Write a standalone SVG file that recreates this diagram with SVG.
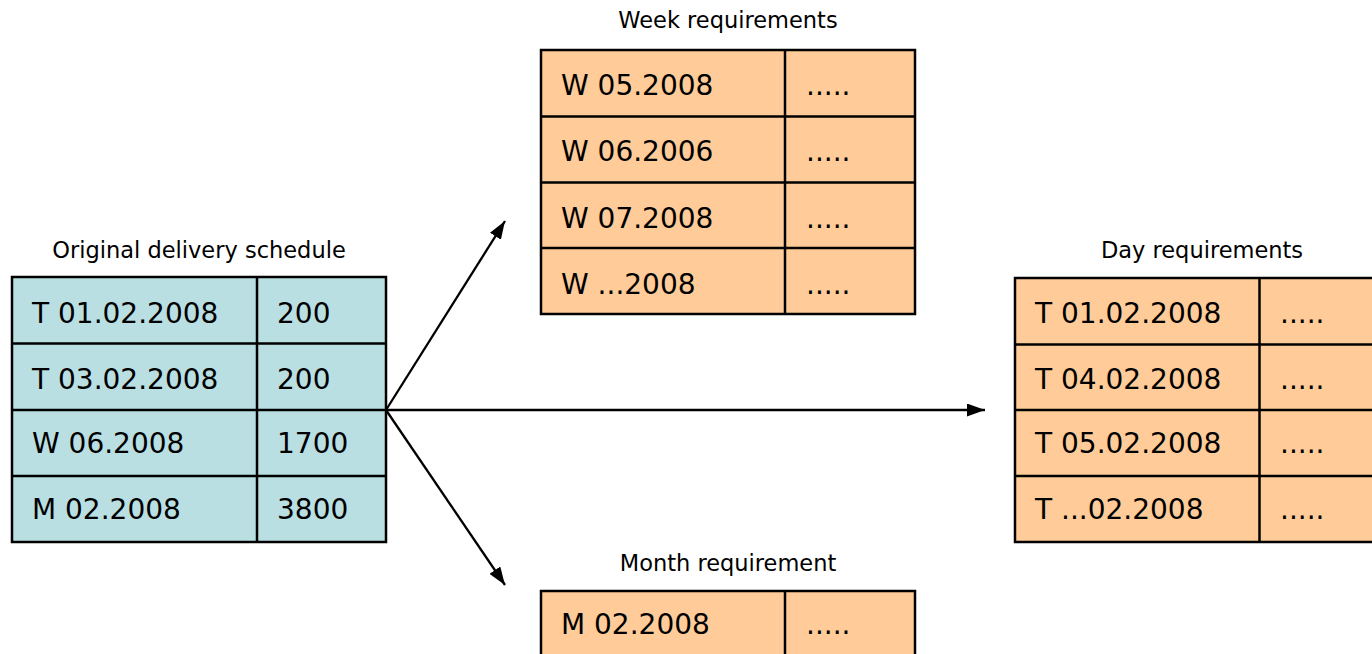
<svg xmlns="http://www.w3.org/2000/svg" width="1372" height="654" viewBox="0 0 1372 654">
<style>
.blue{fill:#B9DFE3;stroke:#000;stroke-width:2.5}
.org{fill:#FFCC99;stroke:#000;stroke-width:2.5}
.ln{stroke:#000;stroke-width:2.5;fill:none}
.t{font-family:"DejaVu Sans",Verdana,sans-serif;font-size:28px;fill:#000}
.h{font-family:"DejaVu Sans",Verdana,sans-serif;font-size:22.5px;fill:#000;text-anchor:middle}
.c{stroke:#000;stroke-width:2.3;fill:none}
</style>
<defs>
<marker id="a2" viewBox="0 0 18 13" refX="18" refY="6.5" markerWidth="18" markerHeight="13" markerUnits="userSpaceOnUse" orient="auto">
<path d="M0,0 L18,6.5 L0,13 z" fill="#000"/>
</marker>
</defs>
<g id="original">
<text class="h" x="199" y="258">Original delivery schedule</text>
<rect class="blue" x="12" y="277" width="374" height="265"/>
<path class="ln" d="M12,343.5 H386 M12,410 H386 M12,476 H386 M257,277 V542"/>
<text class="t" x="32" y="323">T 01.02.2008</text><text class="t" x="277" y="323">200</text>
<text class="t" x="32" y="388.5">T 03.02.2008</text><text class="t" x="277" y="388.5">200</text>
<text class="t" x="32" y="453">W 06.2008</text><text class="t" x="277" y="453">1700</text>
<text class="t" x="32" y="518.5">M 02.2008</text><text class="t" x="277" y="518.5">3800</text>
</g>
<g id="week">
<text class="h" x="728" y="28">Week requirements</text>
<rect class="org" x="541" y="50" width="374" height="264"/>
<path class="ln" d="M541,116.5 H915 M541,182.5 H915 M541,248 H915 M785,50 V314"/>
<text class="t" x="561" y="95">W 05.2008</text><text class="t" x="806" y="95">.....</text>
<text class="t" x="561" y="161">W 06.2006</text><text class="t" x="806" y="161">.....</text>
<text class="t" x="561" y="227.5">W 07.2008</text><text class="t" x="806" y="227.5">.....</text>
<text class="t" x="561" y="293.5">W ...2008</text><text class="t" x="806" y="293.5">.....</text>
</g>
<g id="day">
<text class="h" x="1202" y="258">Day requirements</text>
<rect class="org" x="1015" y="278" width="380" height="264"/>
<path class="ln" d="M1015,344.5 H1395 M1015,410 H1395 M1015,476 H1395 M1259.5,278 V542"/>
<text class="t" x="1035" y="323">T 01.02.2008</text><text class="t" x="1280" y="323">.....</text>
<text class="t" x="1035" y="388.5">T 04.02.2008</text><text class="t" x="1280" y="388.5">.....</text>
<text class="t" x="1035" y="453">T 05.02.2008</text><text class="t" x="1280" y="453">.....</text>
<text class="t" x="1035" y="518.5">T ...02.2008</text><text class="t" x="1280" y="518.5">.....</text>
</g>
<g id="month">
<text class="h" x="728" y="571">Month requirement</text>
<rect class="org" x="541" y="591" width="374" height="80"/>
<path class="ln" d="M785,591 V660"/>
<text class="t" x="561" y="634">M 02.2008</text><text class="t" x="806" y="634">.....</text>
</g>
<g id="connectors">
<line class="c" x1="386" y1="410" x2="505" y2="221" marker-end="url(#a2)"/>
<line class="c" x1="386" y1="410" x2="985" y2="410" marker-end="url(#a2)"/>
<line class="c" x1="386" y1="410" x2="505" y2="585" marker-end="url(#a2)"/>
</g>
</svg>
